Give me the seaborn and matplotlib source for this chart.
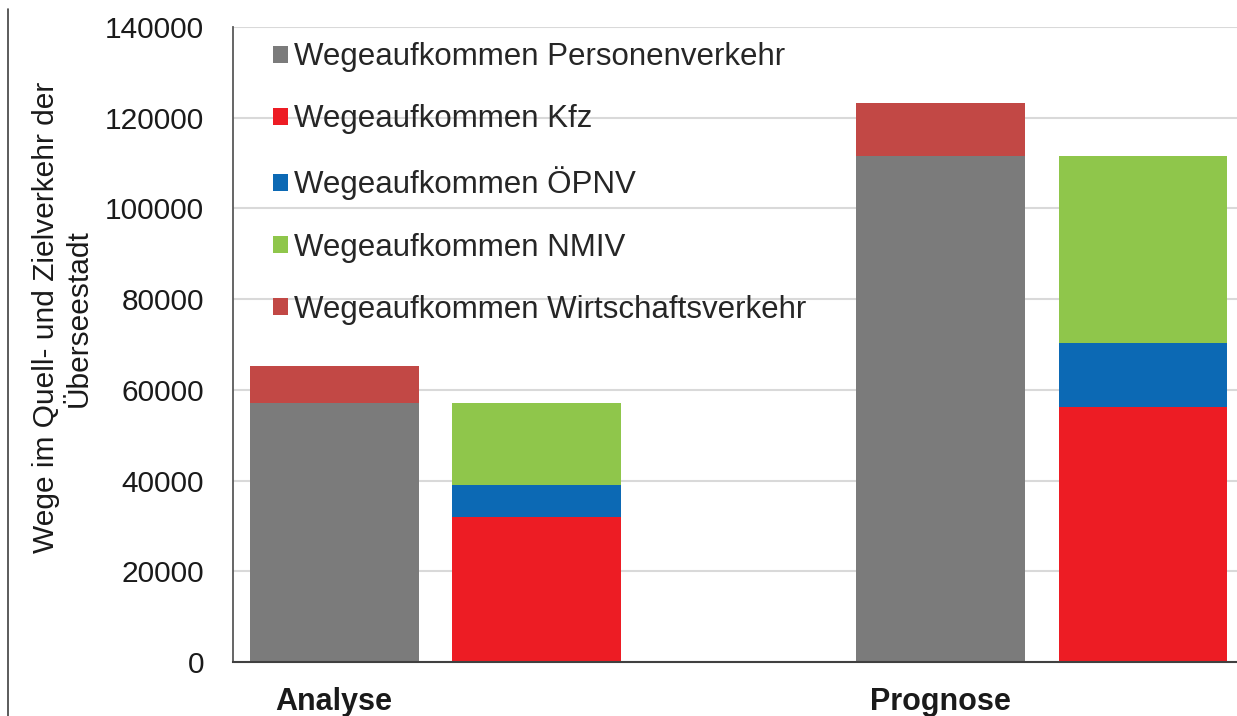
import matplotlib
matplotlib.use("Agg")
import matplotlib.pyplot as plt
from matplotlib.lines import Line2D
from matplotlib.patches import Patch
import pandas as pd
import seaborn as sns

# values
groups = ["Analyse", "Prognose"]
personenverkehr = [57000, 111500]
wirtschaftsverkehr = [8200, 11800]
kfz = [32000, 56200]
oepnv = [7000, 14100]
nmiv = [18200, 41300]

legend_labels = [
    "Wegeaufkommen Personenverkehr",
    "Wegeaufkommen Kfz",
    "Wegeaufkommen ÖPNV",
    "Wegeaufkommen NMIV",
    "Wegeaufkommen Wirtschaftsverkehr",
]
y_ticks = [0, 20000, 40000, 60000, 80000, 100000, 120000, 140000]

COLORS = {
    "Personenverkehr": "#7B7B7B",
    "Kfz": "#ED1C24",
    "ÖPNV": "#0C69B4",
    "NMIV": "#8FC64B",
    "Wirtschaftsverkehr": "#C24845",
}

# slot layout: total bar, mode split bar, gap, total bar, mode split bar
slots = ["A_total", "A_modes", "gap", "P_total", "P_modes"]

rows = []
for i, g in enumerate(groups):
    prefix = g[0]
    rows.append((f"{prefix}_total", "Personenverkehr", personenverkehr[i]))
    rows.append((f"{prefix}_total", "Wirtschaftsverkehr", wirtschaftsverkehr[i]))
    rows.append((f"{prefix}_modes", "Kfz", kfz[i]))
    rows.append((f"{prefix}_modes", "ÖPNV", oepnv[i]))
    rows.append((f"{prefix}_modes", "NMIV", nmiv[i]))
df = pd.DataFrame(rows, columns=["slot", "segment", "value"])
df["top"] = df.groupby("slot")["value"].cumsum()

sns.set_theme(style="white")
plt.rcParams["font.family"] = ["Liberation Sans", "DejaVu Sans"]

fig = plt.figure(figsize=(12.37, 7.16), dpi=100)
ax = fig.add_axes([0.1884, 0.0754, 0.8173, 0.8869])

# draw the tallest cumulative layer first so lower segments cover it
draw_order = ["Wirtschaftsverkehr", "NMIV", "ÖPNV", "Personenverkehr", "Kfz"]
for seg in draw_order:
    sub = df[df["segment"] == seg]
    sns.barplot(data=sub, x="slot", y="top", order=slots, color=COLORS[seg],
                saturation=1, width=0.835, errorbar=None, ax=ax, linewidth=0)

ax.set_xlim(-0.5, 4.5)
ax.set_ylim(0, 140000)
ax.set_yticks(y_ticks)
ax.set_yticklabels([str(v) for v in y_ticks], fontsize=21.5, color="#1a1a1a")
ax.set_xticks([0, 3])
ax.set_xticklabels(groups, fontsize=22, fontweight="bold", color="#1a1a1a")
ax.tick_params(axis="y", length=0, pad=21)
ax.tick_params(axis="x", length=0, pad=18)
ax.set_xlabel("")
ax.set_ylabel("Wege im Quell- und Zielverkehr der\nÜberseestadt", fontsize=21.5,
              color="#1a1a1a", linespacing=1.2)
ax.yaxis.set_label_coords(-0.139, 0.542)

ax.yaxis.grid(True, color="#D9D9D9", linewidth=1.5)
ax.set_axisbelow(True)
for side in ["top", "right"]:
    ax.spines[side].set_visible(False)
ax.spines["left"].set_color("#595959")
ax.spines["left"].set_linewidth(1.3)
ax.spines["bottom"].set_color("#404040")
ax.spines["bottom"].set_linewidth(1.5)

handles = [Patch(facecolor=COLORS[k], edgecolor="none") for k in
           ["Personenverkehr", "Kfz", "ÖPNV", "NMIV", "Wirtschaftsverkehr"]]
ax.legend(handles, legend_labels, loc="upper left", bbox_to_anchor=(0.2207, 0.941),
          bbox_transform=fig.transFigure, frameon=False, fontsize=22.5,
          handlelength=0.48, handleheight=0.45, handletextpad=0.2,
          labelspacing=1.03, borderpad=0, borderaxespad=0)

# thin frame line on the left edge of the picture
fig.add_artist(Line2D([8 / 1237, 8 / 1237], [0, 1 - 9 / 716], transform=fig.transFigure,
                      color="#404040", linewidth=1.2))

fig.savefig("out.png", dpi=100)
